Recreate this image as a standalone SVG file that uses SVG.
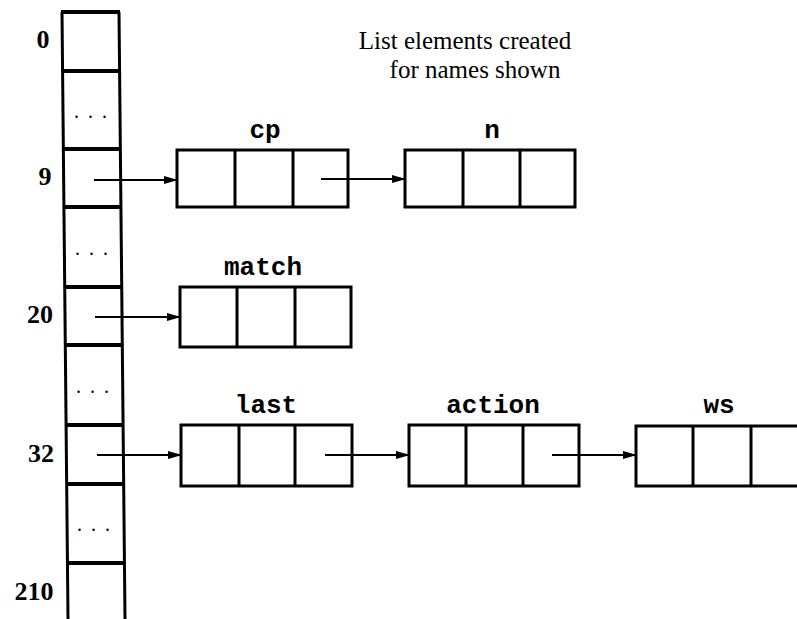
<svg xmlns="http://www.w3.org/2000/svg" width="797" height="619" viewBox="0 0 797 619">
<style>
.col{stroke:#000;stroke-width:3;fill:none}
.sep{stroke:#000;stroke-width:4}
.box{fill:#fff;stroke:#000;stroke-width:3}
.div{stroke:#000;stroke-width:3}
.arr{stroke:#000;stroke-width:2.2;fill:none;marker-end:url(#ah)}
.idx{font-family:"Liberation Serif",serif;font-weight:bold;font-size:26px;text-anchor:middle;fill:#000}
.dots{font-family:"Liberation Serif",serif;font-size:20px;text-anchor:middle;letter-spacing:9px;fill:#000}
.nm{font-family:"Liberation Mono",monospace;font-weight:bold;font-size:26px;text-anchor:middle;fill:#000}
.ttl{font-family:"Liberation Serif",serif;font-size:25px;text-anchor:middle;fill:#000}
</style>
<defs>
<marker id="ah" markerWidth="14" markerHeight="10" refX="13" refY="5" orient="auto" markerUnits="userSpaceOnUse">
<path d="M0,1 L14,5 L0,9 z" fill="#000"/>
</marker>
</defs>
<rect width="797" height="619" fill="#fff"/>

<g id="table">
<line class="col" x1="62" y1="12" x2="68" y2="619"/>
<line class="col" x1="119" y1="12" x2="125" y2="619"/>
<line class="sep" x1="61" y1="12" x2="120" y2="12"/>
<line class="sep" x1="62" y1="71" x2="120" y2="71"/>
<line class="sep" x1="63" y1="149" x2="121" y2="149"/>
<line class="sep" x1="63" y1="207" x2="121" y2="207"/>
<line class="sep" x1="64" y1="287" x2="122" y2="287"/>
<line class="sep" x1="65" y1="345" x2="122" y2="345"/>
<line class="sep" x1="66" y1="425" x2="123" y2="425"/>
<line class="sep" x1="66" y1="484" x2="124" y2="484"/>
<line class="sep" x1="67" y1="563" x2="124" y2="563"/>
<text class="idx" x="43" y="48">0</text>
<text class="idx" x="45" y="185">9</text>
<text class="idx" x="40" y="323">20</text>
<text class="idx" x="41" y="462">32</text>
<text class="idx" x="34" y="600">210</text>
<text class="dots" x="95" y="118">...</text>
<text class="dots" x="96" y="255">...</text>
<text class="dots" x="97" y="393">...</text>
<text class="dots" x="98" y="531">...</text>
</g>

<g id="title">
<text class="ttl" x="465" y="49">List elements created</text>
<text class="ttl" x="475" y="78">for names shown</text>
</g>

<g id="node-cp">
<text class="nm" x="265" y="138">cp</text>
<rect class="box" x="177" y="150" width="171" height="57"/>
<line class="div" x1="235" y1="150" x2="235" y2="207"/>
<line class="div" x1="293" y1="150" x2="293" y2="207"/>
</g>
<g id="node-n">
<text class="nm" x="492" y="138">n</text>
<rect class="box" x="405" y="150" width="170" height="57"/>
<line class="div" x1="463" y1="150" x2="463" y2="207"/>
<line class="div" x1="520" y1="150" x2="520" y2="207"/>
</g>
<g id="node-match">
<text class="nm" x="263" y="275">match</text>
<rect class="box" x="180" y="287" width="171" height="60"/>
<line class="div" x1="237" y1="287" x2="237" y2="347"/>
<line class="div" x1="295" y1="287" x2="295" y2="347"/>
</g>
<g id="node-last">
<text class="nm" x="266" y="413">last</text>
<rect class="box" x="181" y="425" width="171" height="61"/>
<line class="div" x1="239" y1="425" x2="239" y2="486"/>
<line class="div" x1="295" y1="425" x2="295" y2="486"/>
</g>
<g id="node-action">
<text class="nm" x="493" y="413">action</text>
<rect class="box" x="409" y="425" width="170" height="61"/>
<line class="div" x1="466" y1="425" x2="466" y2="486"/>
<line class="div" x1="523" y1="425" x2="523" y2="486"/>
</g>
<g id="node-ws">
<text class="nm" x="719" y="413">ws</text>
<rect class="box" x="636" y="426" width="175" height="60"/>
<line class="div" x1="693" y1="426" x2="693" y2="486"/>
<line class="div" x1="751" y1="426" x2="751" y2="486"/>
</g>

<g id="connectors">
<line class="arr" x1="94" y1="180" x2="177" y2="180"/>
<line class="arr" x1="321" y1="179" x2="405" y2="179"/>
<line class="arr" x1="95" y1="317" x2="180" y2="317"/>
<line class="arr" x1="97" y1="455" x2="181" y2="455"/>
<line class="arr" x1="325" y1="455" x2="409" y2="455"/>
<line class="arr" x1="552" y1="455" x2="636" y2="455"/>
</g>
</svg>
